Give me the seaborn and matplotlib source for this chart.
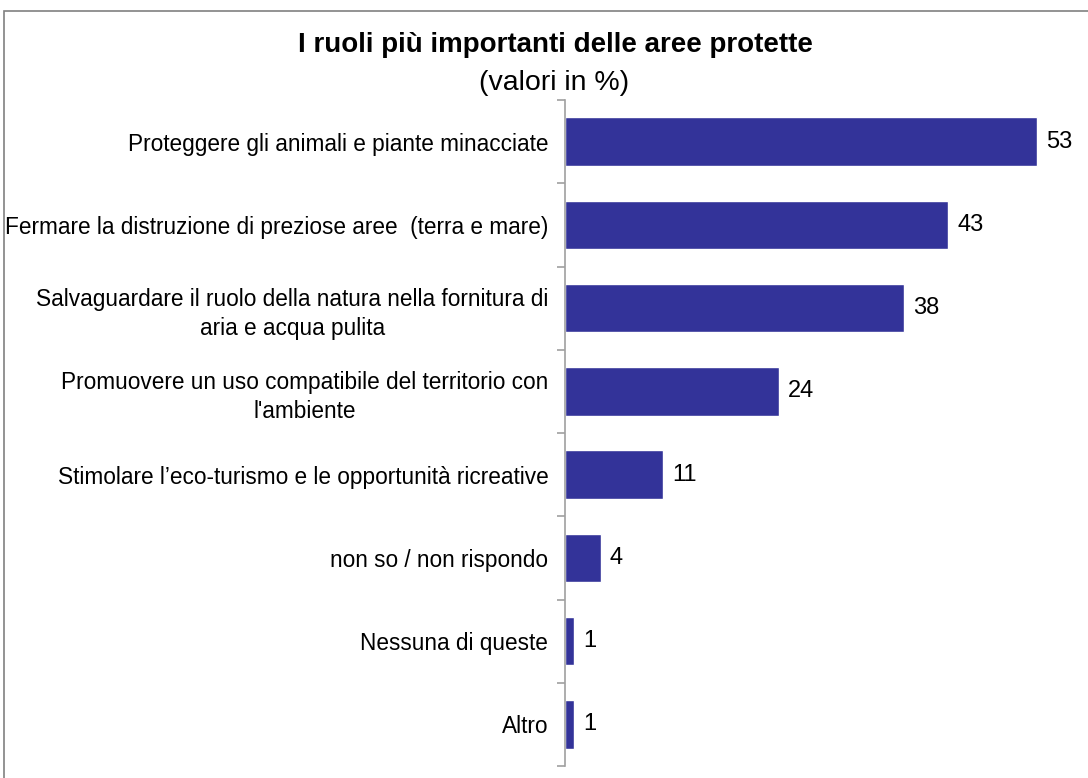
import matplotlib
matplotlib.use("Agg")
import matplotlib.pyplot as plt
import matplotlib.patches as mpatches
import seaborn as sns
import pandas as pd

categories = [
    "Proteggere gli animali e piante minacciate",
    "Fermare la distruzione di preziose aree  (terra e mare)",
    "Salvaguardare il ruolo della natura nella fornitura di\naria e acqua pulita",
    "Promuovere un uso compatibile del territorio con\nl'ambiente",
    "Stimolare l\u2019eco-turismo e le opportunit\u00e0 ricreative",
    "non so / non rispondo",
    "Nessuna di queste",
    "Altro",
]
values = [53, 43, 38, 24, 11, 4, 1, 1]

title = "I ruoli pi\u00f9 importanti delle aree protette"
subtitle = "(valori in %)"

bar_color = "#333399"
axis_grey = "#a0a0a0"

sns.set_theme(style="white")
plt.rcParams["font.family"] = ["Liberation Sans", "DejaVu Sans"]
plt.rcParams["text.color"] = "black"

df = pd.DataFrame({"ruolo": categories, "valore": values})

fig = plt.figure(figsize=(10.88, 7.78), dpi=100)
ax = fig.add_axes([565 / 1088, 12 / 778, (1082 - 565) / 1088, (766 - 100) / 778])

sns.barplot(data=df, y="ruolo", x="valore", orient="h", color=bar_color,
            width=0.58, saturation=1, ax=ax)

ax.set_xlim(0, 58)
ax.set_ylim(len(categories) - 0.5, -0.5)
ax.set_xlabel("")
ax.set_ylabel("")
ax.set_xticks([])

for spine in ["top", "right", "bottom"]:
    ax.spines[spine].set_visible(False)
ax.spines["left"].set_color(axis_grey)
ax.spines["left"].set_linewidth(1.2)

ax.tick_params(axis="y", which="major", length=0, pad=12, labelsize=16.3,
               labelcolor="black")
for lbl in ax.get_yticklabels():
    lbl.set_multialignment("center")
    lbl.set_linespacing(1.35)
ax.set_yticks([i + 0.5 for i in range(-1, len(categories))], minor=True)
ax.tick_params(axis="y", which="minor", length=6, width=1.2, color=axis_grey,
               direction="out", left=True)

for i, v in enumerate(values):
    ax.annotate(f"{v}", xy=(v, i), xytext=(6.5, 0), textcoords="offset points",
                va="center", ha="left", fontsize=17, color="black")

fig.text(555 / 1088, 1 - 45 / 778, title, ha="center", va="center",
         fontsize=20, fontweight="bold", color="black")
fig.text(554 / 1088, 1 - 83 / 778, subtitle, ha="center", va="center",
         fontsize=20.5, color="black")

fig.patches.append(mpatches.Rectangle((4 / 1088, -0.1), 1.2, 1 - 11 / 778 + 0.1,
                                      transform=fig.transFigure, fill=False,
                                      edgecolor="#808080", linewidth=1.2))

fig.savefig("out.png", dpi=100)
